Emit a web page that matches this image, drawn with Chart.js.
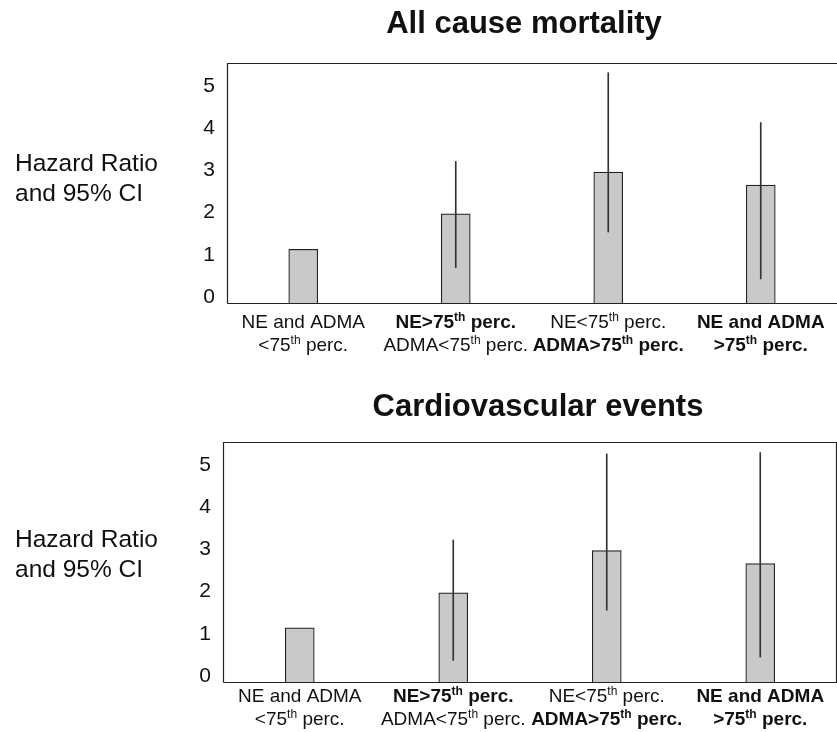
<!DOCTYPE html>
<html>
<head>
<meta charset="utf-8">
<script src="https://cdn.jsdelivr.net/npm/chart.js@4.4.1/dist/chart.umd.min.js"></script>
<style>
  body { margin: 0; background: #fff; }
  #wrap { position: relative; width: 837px; height: 732px; }
  canvas { position: absolute; left: 0; }
</style>
</head>
<body>
<div id="wrap">
  <canvas id="chartTop" width="837" height="366" style="top:0"></canvas>
  <canvas id="chartBottom" width="837" height="366" style="top:366px"></canvas>
</div>
<script>
// category labels, two lines each, "^th" marks the superscript
let categoryLines = [
    ["NE and ADMA", "<75^th perc."],
    ["NE>75^th perc.", "ADMA<75^th perc."],
    ["NE<75^th perc.", "ADMA>75^th perc."],
    ["NE and ADMA", ">75^th perc."]
];
let categoryBold = [
    [false, false],
    [true, false],
    [false, true],
    [true, true]
];

// All cause mortality
let mortalityHR = [1.13, 1.97, 2.96, 2.65];
let mortalityLow = [null, 0.70, 1.54, 0.43];
let mortalityHigh = [null, 3.21, 5.31, 4.13];

// Cardiovascular events
let cvHR = [1.14, 1.97, 2.97, 2.66];
let cvLow = [null, 0.37, 1.56, 0.45];
let cvHigh = [null, 3.22, 5.26, 5.29];

let yTicks = [0, 1, 2, 3, 4, 5];
let yMin = -0.14;
let yMax = 5.54;

let FONT = '"Liberation Sans", Arial, sans-serif';
let Y_AXIS_W = 60;

// draws a text line where "^th" is raised and smaller
let drawRichLine = (ctx, text, cx, baseline, bold) => {
    let parts = text.split("^");
    let segs = [];
    parts.forEach((p, idx) => {
        if (idx === 0) {
            segs.push({ t: p, sup: false });
        } else {
            segs.push({ t: p.slice(0, 2), sup: true });
            segs.push({ t: p.slice(2), sup: false });
        }
    });
    let w = (bold ? "bold " : "");
    let mainFont = w + "19px " + FONT;
    let supFont = w + "12px " + FONT;
    let total = 0;
    segs.forEach(s => {
        ctx.font = s.sup ? supFont : mainFont;
        s.w = ctx.measureText(s.t).width;
        total += s.w;
    });
    let x = cx - total / 2;
    ctx.textAlign = "left";
    ctx.textBaseline = "alphabetic";
    segs.forEach(s => {
        ctx.font = s.sup ? supFont : mainFont;
        ctx.fillText(s.t, x, s.sup ? baseline - 7 : baseline);
        x += s.w;
    });
};

let extrasPlugin = {
    id: "extras",
    afterDatasetsDraw(chart, args, opts) {
        let ctx = chart.ctx;
        let a = chart.chartArea;
        ctx.save();
        // frame round the plot
        ctx.strokeStyle = "#222";
        ctx.lineWidth = 1.2;
        let l = Math.round(a.left) + 0.5;
        let t = Math.round(a.top) + 0.5;
        let r = Math.round(a.right) - 0.5;
        let b = Math.round(a.bottom) + 0.5;
        ctx.beginPath();
        ctx.moveTo(l, b);
        ctx.lineTo(l, t);
        ctx.lineTo(opts.frameRight ? r : r + 4, t);
        if (opts.frameRight) {
            ctx.lineTo(r, b);
        } else {
            ctx.moveTo(r + 4, b);
        }
        ctx.lineTo(l, b);
        ctx.stroke();
        ctx.fillStyle = "#111";
        // title
        ctx.font = "bold 31px " + FONT;
        ctx.textAlign = "center";
        ctx.textBaseline = "alphabetic";
        ctx.fillText(opts.title, opts.titleX, opts.titleY);
        // y label
        ctx.font = "24.5px " + FONT;
        ctx.textAlign = "left";
        ctx.fillText("Hazard Ratio", 15, opts.yLabelY);
        ctx.fillText("and 95% CI", 15, opts.yLabelY + 30);
        // category labels
        let xScale = chart.scales.x;
        categoryLines.forEach((lines, i) => {
            let cx = xScale.getPixelForValue(i);
            lines.forEach((line, j) => {
                drawRichLine(ctx, line, cx, a.bottom + opts.labelGap + j * 23, categoryBold[i][j]);
            });
        });
        ctx.restore();
    }
};

let makeChart = (id, hr, low, high, layout) => {
    let ctx = document.getElementById(id).getContext("2d");
    return new Chart(ctx, {
        type: "bar",
        data: {
            labels: categoryLines.map(l => l.join(" ")),
            datasets: [
                {
                    label: "95% CI",
                    data: low.map((l, i) => l === null ? null : [l, high[i]]),
                    backgroundColor: "#333",
                    borderWidth: 0,
                    barThickness: 1,
                    grouped: false,
                    order: 0
                },
                {
                    label: "Hazard Ratio",
                    data: hr,
                    base: yMin,
                    backgroundColor: "#c9c9c9",
                    borderColor: "#222",
                    borderWidth: 1.2,
                    barThickness: 29,
                    grouped: false,
                    order: 1
                }
            ]
        },
        options: {
            responsive: false,
            animation: false,
            devicePixelRatio: 1,
            layout: {
                padding: {
                    left: layout.left - Y_AXIS_W,
                    top: layout.top,
                    right: 837 - layout.right,
                    bottom: 366 - layout.bottom
                }
            },
            scales: {
                x: {
                    display: false
                },
                y: {
                    min: yMin,
                    max: yMax,
                    afterBuildTicks: scale => {
                        scale.ticks = yTicks.map(v => ({ value: v }));
                    },
                    afterFit: scale => {
                        scale.width = Y_AXIS_W;
                    },
                    grid: { display: false, drawTicks: false },
                    border: { display: false },
                    ticks: {
                        padding: 12,
                        color: "#111",
                        font: { family: FONT, size: 21 }
                    }
                }
            },
            plugins: {
                legend: { display: false },
                tooltip: { enabled: false },
                extras: layout.extras
            }
        },
        plugins: [extrasPlugin]
    });
};

makeChart("chartTop", mortalityHR, mortalityLow, mortalityHigh, {
    left: 227, right: 837, top: 63, bottom: 303,
    extras: { title: "All cause mortality", titleX: 524, titleY: 33, yLabelY: 171, labelGap: 25, frameRight: false }
});

makeChart("chartBottom", cvHR, cvLow, cvHigh, {
    left: 223, right: 837, top: 76, bottom: 316,
    extras: { title: "Cardiovascular events", titleX: 538, titleY: 50, yLabelY: 181, labelGap: 20, frameRight: true }
});
</script>
</body>
</html>
